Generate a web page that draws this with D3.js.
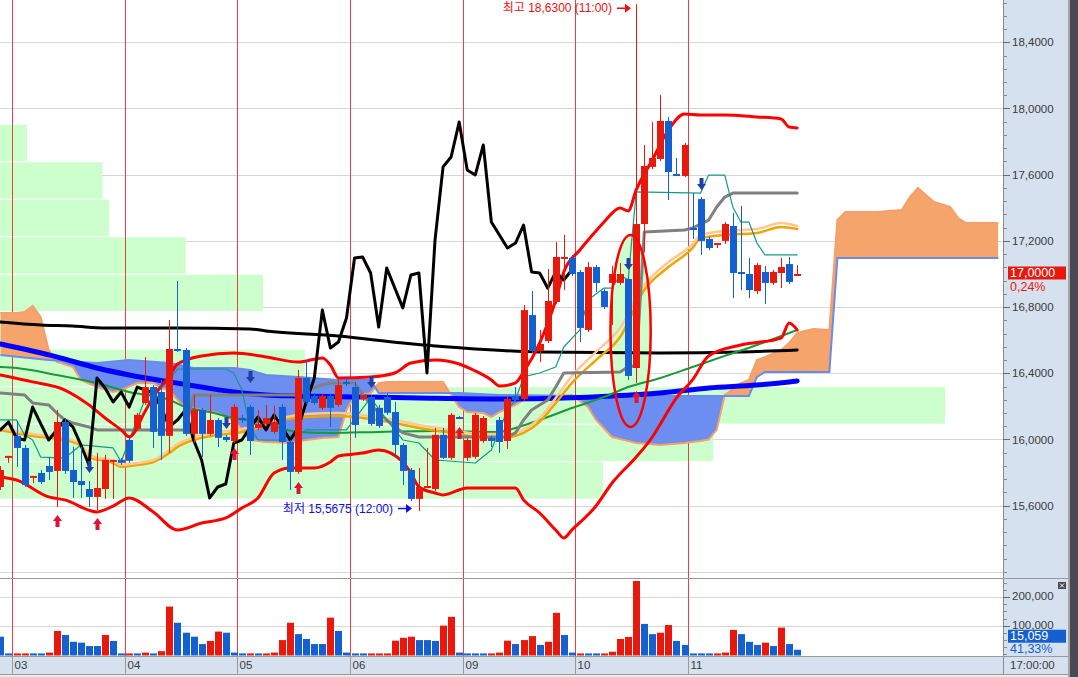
<!DOCTYPE html>
<html>
<head>
<meta charset="utf-8">
<title>Hourly candle chart</title>
<script src="https://cdn.jsdelivr.net/npm/d3@7"></script>
<style>
  body { margin: 0; background: #fff; overflow: hidden; }
  svg { display: block; font-family: "Liberation Sans", "Noto Sans CJK KR", Arial, sans-serif; }
  .axis-label { font-size: 11.5px; fill: #3a3a3a; dominant-baseline: central; }
  .note { font-size: 12px; dominant-baseline: central; }
</style>
</head>
<body>
<svg id="chart" width="1078" height="677"></svg>
<script>
// bar index of the first row in ohlc / volumes
const firstBar = -2;
const dayLabels = ["03", "04", "05", "06", "09", "10", "11"];
const dayStarts = [0, 14, 28, 42, 56, 70, 84];

// open, high, low, close
const ohlc = [
  [15.713, 15.840, 15.695, 15.816], [15.898, 15.901, 15.859, 15.901],
  [16.022, 16.112, 15.834, 15.949], [15.949, 15.967, 15.713, 15.725], [15.778, 15.780, 15.737, 15.780],
  [15.798, 15.816, 15.731, 15.743], [15.840, 15.895, 15.755, 15.804], [15.810, 16.179, 15.592, 16.106],
  [16.106, 16.130, 15.792, 15.810], [15.816, 15.955, 15.647, 15.743], [15.749, 15.955, 15.647, 15.725],
  [15.701, 15.749, 15.592, 15.653], [15.653, 15.919, 15.574, 15.707], [15.701, 15.907, 15.641, 15.877],
  [15.875, 15.877, 15.641, 15.877], [15.877, 15.889, 15.846, 15.859],
  [15.997, 16.010, 15.859, 15.871], [16.064, 16.161, 16.052, 16.149], [16.221, 16.498, 16.209, 16.317],
  [16.317, 16.329, 15.949, 16.046], [16.287, 16.360, 15.877, 16.022], [16.022, 16.722, 15.919, 16.547],
  [16.547, 16.958, 16.529, 16.535], [16.541, 16.553, 16.022, 16.034], [16.034, 16.269, 15.979, 16.179],
  [16.179, 16.191, 15.895, 16.034], [16.034, 16.269, 16.022, 16.118], [16.118, 16.130, 15.955, 16.010],
  [16.016, 16.028, 15.985, 15.997], [15.991, 16.215, 15.979, 16.197],
  [16.130, 16.149, 16.100, 16.118], [16.197, 16.209, 15.907, 15.991], [16.070, 16.179, 16.058, 16.094],
  [16.094, 16.209, 16.082, 16.130], [16.046, 16.203, 16.034, 16.106], [16.197, 16.215, 15.877, 15.985],
  [15.985, 15.997, 15.695, 15.804], [15.804, 16.420, 15.792, 16.372], [16.372, 16.481, 16.215, 16.227],
  [16.263, 16.282, 16.209, 16.221], [16.191, 16.276, 16.179, 16.263], [16.263, 16.276, 16.076, 16.191],
  [16.209, 16.360, 16.197, 16.329], [16.348, 16.372, 16.323, 16.336],
  [16.317, 16.348, 16.010, 16.088], [16.245, 16.269, 16.233, 16.269], [16.257, 16.269, 16.082, 16.094],
  [16.191, 16.209, 16.070, 16.082], [16.257, 16.282, 16.149, 16.161], [16.166, 16.227, 15.895, 15.967],
  [15.967, 15.979, 15.725, 15.810], [15.816, 15.828, 15.628, 15.641], [15.641, 15.828, 15.5675, 15.713],
  [15.713, 15.949, 15.707, 15.719], [15.701, 16.070, 15.689, 16.028], [16.028, 16.070, 15.883, 15.889],
  [15.889, 16.161, 15.877, 16.149], [16.136, 16.142, 16.124, 16.130],
  [15.889, 16.010, 15.871, 15.997], [15.895, 16.161, 15.883, 16.149], [15.991, 16.142, 15.979, 16.130],
  [16.010, 16.022, 15.955, 15.991], [16.118, 16.136, 15.919, 15.985], [15.991, 16.257, 15.943, 16.245],
  [16.257, 16.317, 16.233, 16.239], [16.245, 16.813, 16.233, 16.782], [16.752, 16.897, 16.523, 16.535],
  [16.535, 16.662, 16.468, 16.577], [16.595, 17.030, 16.583, 16.837], [16.831, 17.193, 16.819, 17.103],
  [17.091, 17.236, 16.903, 17.103], [17.097, 17.115, 16.988, 17.000],
  [17.012, 17.024, 16.589, 16.674], [16.662, 17.072, 16.650, 17.042], [17.042, 17.054, 16.891, 16.946],
  [16.897, 16.909, 16.789, 16.801], [16.946, 17.048, 16.692, 17.000], [16.946, 17.066, 16.934, 17.000],
  [16.970, 16.982, 16.360, 16.384], [16.432, 18.630, 16.342, 17.302], [17.302, 17.780, 17.133, 17.653],
  [17.647, 17.918, 17.634, 17.701], [17.695, 18.082, 17.683, 17.925], [17.925, 17.949, 17.447, 17.616],
  [17.604, 17.701, 17.598, 17.601], [17.592, 17.792, 17.586, 17.780],
  [17.278, 17.489, 17.212, 17.266], [17.453, 17.465, 17.115, 17.200], [17.212, 17.224, 17.145, 17.157],
  [17.187, 17.187, 17.157, 17.187], [17.200, 17.314, 17.181, 17.302], [17.290, 17.369, 16.855, 17.006],
  [17.012, 17.411, 16.903, 17.006], [17.000, 17.097, 16.855, 16.903], [16.897, 17.066, 16.879, 17.054],
  [17.012, 17.048, 16.819, 16.946], [16.946, 17.024, 16.934, 17.012], [17.006, 17.097, 16.915, 17.042],
  [17.060, 17.103, 16.940, 16.952], [17.000, 17.054, 16.997, 17.000]
];

// volume in thousands, and whether the bar is drawn red
const volumes = [
  61, 2, 2, 2, 2, 2, 5, 81, 67, 43, 40, 28, 28, 67, 46, 2,
  2, 2, 5, 2, 10, 167, 110, 75, 61, 35, 46, 79, 75, 5,
  2, 2, 2, 2, 5, 49, 110, 70, 53, 35, 35, 128, 81, 5,
  2, 2, 2, 2, 2, 47, 57, 61, 49, 49, 46, 100, 131, 5,
  2, 2, 2, 2, 5, 47, 35, 49, 63, 32, 43, 145, 67, 5,
  2, 2, 2, 2, 8, 53, 60, 257, 106, 70, 75, 102, 46, 32,
  2, 2, 2, 2, 5, 85, 70, 43, 32, 40, 28, 93, 35, 15
];
const volumeUp = [
  0, 0, 1, 1, 0, 0, 1, 1, 0, 0, 0, 0, 0, 1, 0, 0,
  1, 0, 1, 0, 1, 1, 0, 0, 0, 0, 1, 1, 0, 0,
  0, 1, 0, 1, 1, 1, 1, 0, 0, 0, 0, 1, 0, 0,
  0, 0, 1, 1, 1, 1, 1, 1, 0, 0, 0, 1, 1, 0,
  0, 0, 0, 1, 1, 1, 0, 1, 1, 0, 1, 1, 0, 0,
  1, 0, 0, 1, 1, 1, 1, 1, 0, 0, 1, 1, 0, 0,
  0, 0, 0, 1, 1, 1, 0, 0, 0, 1, 0, 1, 0, 0
];

// overlay lines as [bar index, price]
const bbUpper = [[-2,16.390],[2,16.348],[6,16.299],[9,16.209],[11,16.130],[13,16.058],[14,16.016],[16,16.172],[17,16.257],[19,16.384],[20,16.456],[23,16.505],[27,16.523],[31,16.499],[35,16.468],[38,16.493],[39,16.450],[40,16.372],[44,16.378],[47,16.402],[49,16.462],[52,16.480],[55,16.456],[57,16.414],[59,16.360],[60,16.323],[62,16.342],[63,16.408],[65,16.583],[67,16.843],[68,17.012],[70,17.145],[72,17.260],[73,17.314],[75,17.399],[76,17.381],[77,17.508],[79,17.689],[81,17.870],[83,17.967],[85,17.961],[88,17.961],[92,17.949],[95,17.937],[96,17.888],[97,17.882]];
const bbLower = [[-2,15.773],[0,15.755],[4,15.653],[6,15.635],[10,15.562],[12,15.598],[14,15.647],[17,15.562],[20,15.453],[23,15.495],[26,15.526],[28,15.586],[30,15.647],[32,15.798],[34,15.828],[37,15.828],[39,15.864],[40,15.900],[43,15.918],[45,15.937],[48,15.864],[49,15.798],[50,15.713],[52,15.677],[53,15.665],[56,15.707],[62,15.707],[63,15.635],[65,15.556],[67,15.453],[68,15.405],[69,15.453],[72,15.598],[74,15.737],[77,15.894],[79,16.015],[80,16.094],[82,16.251],[84,16.360],[86,16.505],[90,16.571],[95,16.613],[96,16.704],[97,16.662]];
const maBlue = [[-2,16.577],[5,16.499],[10,16.432],[14,16.390],[19,16.348],[23,16.317],[27,16.287],[31,16.269],[35,16.263],[43,16.257],[50,16.251],[60,16.245],[68,16.251],[74,16.263],[80,16.281],[86,16.311],[92,16.329],[97,16.354]];
const maBlack = [[-2,16.710],[3,16.692],[7,16.686],[11,16.674],[20,16.674],[29,16.668],[31,16.656],[40,16.625],[48,16.583],[57,16.547],[65,16.529],[80,16.523],[90,16.529],[97,16.541]];
const maGreen = [[-2,16.438],[0,16.432],[5,16.390],[10,16.341],[14,16.287],[19,16.239],[21,16.196],[24,16.166],[27,16.130],[30,16.106],[35,16.046],[39,16.040],[45,16.046],[52,16.052],[60,16.046],[62,16.070],[65,16.118],[69,16.190],[73,16.257],[76,16.317],[80,16.372],[84,16.438],[88,16.505],[92,16.571],[97,16.662]];
const maOrange = [[-2,16.058],[2,16.021],[6,15.997],[8,15.961],[9,15.894],[12,15.858],[13,15.834],[15,15.846],[17,15.864],[19,15.918],[20,15.955],[22,15.997],[25,16.027],[28,16.045],[30,16.070],[33,16.118],[36,16.136],[40,16.142],[44,16.124],[47,16.100],[50,16.070],[54,16.040],[58,16.015],[61,16.015],[63,16.040],[65,16.106],[67,16.221],[69,16.341],[72,16.480],[75,16.619],[78,16.903],[81,17.042],[84,17.157],[85,17.217],[88,17.236],[92,17.248],[95,17.284],[97,17.272]];
const maPeach = [[-2,16.070],[2,16.033],[6,16.009],[8,15.973],[9,15.906],[12,15.870],[13,15.846],[15,15.858],[17,15.876],[19,15.937],[20,15.973],[22,16.015],[25,16.045],[28,16.063],[30,16.088],[33,16.130],[36,16.154],[40,16.160],[44,16.142],[47,16.118],[50,16.088],[54,16.058],[58,16.033],[61,16.033],[63,16.058],[65,16.130],[67,16.251],[69,16.384],[72,16.529],[75,16.674],[78,16.933],[81,17.072],[84,17.181],[85,17.236],[88,17.260],[92,17.272],[95,17.308],[97,17.290]];
const kijun = [[-2,16.281],[1,16.269],[2,16.221],[4,16.209],[5,16.160],[6,16.118],[7,16.100],[9,16.076],[10,16.058],[21,16.058],[22,16.269],[35,16.269],[36,16.299],[38,16.329],[39,16.341],[42,16.341],[44,16.209],[46,16.118],[48,16.040],[50,16.015],[61,16.015],[62,16.040],[63,16.118],[64,16.178],[66,16.239],[67,16.317],[68,16.402],[75,16.408],[76,16.440],[77,16.445],[78,17.254],[83,17.266],[84,17.278],[86,17.326],[87,17.405],[88,17.465],[89,17.489],[97,17.489]];
const tenkan = [[-2,16.118],[0,16.118],[1,16.027],[2,15.997],[3,15.894],[6,15.888],[8,15.967],[12,15.949],[13,15.864],[14,15.997],[15,16.118],[16,16.251],[19,16.360],[20,16.426],[26,16.426],[27,16.402],[28,16.299],[29,16.076],[30,15.997],[34,15.997],[36,16.058],[41,16.058],[44,16.251],[46,16.118],[48,15.997],[50,15.979],[52,15.876],[57,15.858],[59,15.937],[61,16.178],[62,16.239],[63,16.378],[65,16.402],[67,16.438],[68,16.559],[70,16.662],[71,16.843],[73,16.915],[74,16.915],[75,16.994],[76,16.964],[77,17.496],[85,17.489],[86,17.598],[88,17.598],[89,17.405],[90,17.314],[91,17.314],[92,17.187],[93,17.115],[97,17.115]];
const spanA = [[-2,16.764],[0,16.764],[1,16.770],[2,16.807],[3,16.740],[4,16.540],[5,16.470],[7,16.438],[8,16.360],[10,16.317],[12,16.287],[13,16.299],[15,16.341],[17,16.341],[18,16.311],[19,16.299],[20,16.239],[21,16.196],[23,16.178],[25,16.160],[26,16.136],[27,16.118],[28,16.058],[29,15.997],[31,15.985],[34,15.979],[36,15.997],[38,16.009],[40,16.015],[41,16.178],[42,16.263],[44,16.281],[45,16.341],[46,16.348],[53,16.348],[54,16.269],[55,16.196],[56,16.166],[58,16.160],[59,16.136],[60,16.166],[62,16.209],[63,16.239],[65,16.251],[69,16.269],[71,16.196],[72,16.118],[74,16.015],[77,15.979],[80,15.967],[83,15.979],[85,15.991],[86,16.000],[87,16.058],[88,16.269],[90,16.341],[91,16.360],[92,16.480],[93,16.498],[95,16.541],[96,16.583],[97,16.644],[99,16.668],[101,16.662],[102,17.326],[103,17.375],[107,17.375],[110,17.387],[111,17.465],[112,17.520],[113,17.477],[114,17.435],[116,17.405],[117,17.338],[118,17.308],[122,17.308]];
const spanB = [[-2,16.511],[4,16.480],[10,16.462],[14,16.480],[19,16.462],[22,16.432],[27,16.432],[29,16.420],[31,16.390],[35,16.378],[40,16.360],[44,16.360],[45,16.281],[55,16.281],[60,16.269],[70,16.263],[91,16.263],[92,16.378],[93,16.408],[101,16.408],[102,17.097],[122,17.097]];
// second instrument drawn over the price
const overlay = [[-2,16.058],[-1,16.106],[0,16.009],[1,15.997],[2,16.196],[4,15.997],[6,16.118],[7,16.076],[8,15.967],[9,15.846],[10,16.372],[11,16.311],[12,16.227],[13,16.287],[14,16.196],[15,16.317],[16,16.299],[17,16.281],[18,16.190],[19,16.076],[20,16.118],[21,16.178],[22,15.997],[23,15.876],[24,15.647],[25,15.713],[26,15.731],[27,15.979],[28,15.997],[29,16.070],[30,16.136],[31,16.058],[32,16.148],[33,16.076],[34,15.997],[35,16.070],[36,16.227],[37,16.372],[38,16.782],[39,16.553],[40,16.589],[41,16.734],[42,17.097],[43,17.103],[44,17.006],[45,16.680],[46,17.036],[48,16.795],[49,16.994],[50,17.006],[51,16.402],[52,17.205],[53,17.647],[54,17.707],[55,17.918],[56,17.628],[57,17.598],[58,17.780],[59,17.314],[61,17.157],[62,17.187],[63,17.296],[64,17.012],[65,17.006],[66,16.915],[67,17.012],[68,16.964],[69,17.024]];

// price-by-volume bins
const profileLow = 15.640;
const profileStep = 0.2265;
const profileVolumes = [2680, 3170, 4200, 1355, 55, 1170, 825, 485, 455, 120];

// signal arrows: [bar index, price at arrow tip]
const buySignals = [[5,15.544],[10,15.526],[27,15.949],[35,15.743],[55,16.076],[77,16.293]];
const sellSignals = [[9,15.798],[26,16.064],[29,16.341],[44,16.311],[76,17.024],[85,17.508]];

const priceTicks = [15.2, 15.6, 16.0, 16.4, 16.8, 17.2, 17.6, 18.0, 18.4];
const volumeTicks = [100, 200];

const W = 1078, H = 677;
const plotRight = 1003, mainBottom = 578.5, volBottom = 656.5, axisRight = 1068;

const x = d3.scaleLinear().domain([0, 84]).range([16.52, 692.55]);
const y = d3.scaleLinear().domain([15.2, 18.4]).range([571.9, 42.3]);
const yv = d3.scaleLinear().domain([0, 200]).range([654, 597.2]);
const xp = d3.scaleLinear().domain([0, 4200]).range([0, 945]);

const RED = "#e8190c", BLUE = "#1560d0";
const fmtPrice = v => v.toFixed(4).replace(".", ",");
const bars = ohlc.map((r, k) => ({ i: k + firstBar, o: r[0], h: r[1], l: r[2], c: r[3] }));
const dayX = d => Math.floor(x(d - 0.5)) + 0.5;

const svg = d3.select("#chart");
const defs = svg.append("defs");
defs.append("clipPath").attr("id", "mainClip").append("rect")
  .attr("x", 0).attr("y", 0).attr("width", plotRight).attr("height", mainBottom);
defs.append("clipPath").attr("id", "volClip").append("rect")
  .attr("x", 0).attr("y", mainBottom).attr("width", plotRight).attr("height", volBottom - mainBottom);

svg.append("rect").attr("width", W).attr("height", H).attr("fill", "#fff");

const main = svg.append("g").attr("clip-path", "url(#mainClip)");
const vol = svg.append("g").attr("clip-path", "url(#volClip)");

// grid
main.selectAll(".grid").data(priceTicks).enter().append("line")
  .attr("x1", 0).attr("x2", plotRight)
  .attr("y1", d => Math.round(y(d)) + 0.5).attr("y2", d => Math.round(y(d)) + 0.5)
  .attr("stroke", "#d6d6d6");
vol.selectAll(".vgrid").data(volumeTicks).enter().append("line")
  .attr("x1", 0).attr("x2", plotRight)
  .attr("y1", d => Math.round(yv(d)) + 0.5).attr("y2", d => Math.round(yv(d)) + 0.5)
  .attr("stroke", "#d6d6d6");

// volume profile
main.selectAll(".profile").data(profileVolumes).enter().append("rect")
  .attr("x", 0)
  .attr("y", (d, k) => y(profileLow + (k + 1) * profileStep) + 0.5)
  .attr("width", d => xp(d))
  .attr("height", (d, k) => y(profileLow + k * profileStep) - y(profileLow + (k + 1) * profileStep) - 1)
  .attr("fill", "#ccffcc");

// day separators
[main, vol].forEach(g => g.selectAll(".day").data(dayStarts).enter().append("line")
  .attr("x1", dayX).attr("x2", dayX)
  .attr("y1", 0).attr("y2", volBottom)
  .attr("stroke", "#e04444"));

// highlight ellipse
const ell = { i: 76.3, p: 16.656, di: 2.5, dp: 0.58 };
main.append("ellipse")
  .attr("cx", x(ell.i)).attr("cy", y(ell.p))
  .attr("rx", x(ell.i + ell.di) - x(ell.i)).attr("ry", y(ell.p - ell.dp) - y(ell.p))
  .attr("fill", "#ccffcc");

// ichimoku cloud
const areaAbove = d3.area().x(d => x(d[0])).y0(0).y1(d => y(d[1]));
const areaBelow = d3.area().x(d => x(d[0])).y0(d => y(d[1])).y1(mainBottom);
defs.append("clipPath").attr("id", "belowA").append("path").attr("d", areaBelow(spanA));
defs.append("clipPath").attr("id", "belowB").append("path").attr("d", areaBelow(spanB));
main.append("path").attr("d", areaAbove(spanB)).attr("clip-path", "url(#belowA)").attr("fill", "#f5a46b");
main.append("path").attr("d", areaAbove(spanA)).attr("clip-path", "url(#belowB)").attr("fill", "#6b8ef0");

const straight = d3.line().x(d => x(d[0])).y(d => y(d[1]));
const smooth = d3.line().x(d => x(d[0])).y(d => y(d[1])).curve(d3.curveMonotoneX);

main.append("path").attr("d", straight(spanA)).attr("fill", "none").attr("stroke", "#f3a06c").attr("stroke-width", 2);
main.append("path").attr("d", straight(spanB)).attr("fill", "none").attr("stroke", "#6a8be8").attr("stroke-width", 2);

const drawLine = (data, gen, color, w) => main.append("path").attr("d", gen(data))
  .attr("fill", "none").attr("stroke", color).attr("stroke-width", w)
  .attr("stroke-linejoin", "round").attr("stroke-linecap", "round");

drawLine(maBlue, smooth, "#0000ff", 5);
drawLine(maBlack, smooth, "#000", 3);
drawLine(maGreen, smooth, "#179a3a", 2);
drawLine(maOrange, smooth, "#f0a400", 2.5);
drawLine(maPeach, smooth, "#ffc892", 2.5);
drawLine(kijun, straight, "#808080", 3);
drawLine(tenkan, straight, "#14998a", 1.2);
drawLine(bbUpper, smooth, "#ff0000", 3);
drawLine(bbLower, smooth, "#ff0000", 3);
drawLine(overlay, straight, "#000", 3);

// candles
const cg = main.selectAll(".candle").data(bars).enter().append("g");
cg.append("line")
  .attr("x1", d => Math.round(x(d.i)) + 0.5).attr("x2", d => Math.round(x(d.i)) + 0.5)
  .attr("y1", d => y(d.h)).attr("y2", d => y(d.l))
  .attr("stroke", d => d.c >= d.o ? RED : BLUE);
cg.append("rect")
  .attr("x", d => Math.round(x(d.i)) - 3)
  .attr("y", d => y(Math.max(d.o, d.c)))
  .attr("width", 7)
  .attr("height", d => Math.max(2, Math.abs(y(d.o) - y(d.c))))
  .attr("fill", d => d.c >= d.o ? RED : BLUE);

// signals
const upArrow = "M0,0L4.5,6L2,6L2,12L-2,12L-2,6L-4.5,6Z";
const downArrow = "M0,0L4.5,-6L2,-6L2,-12L-2,-12L-2,-6L-4.5,-6Z";
main.selectAll(".buy").data(buySignals).enter().append("path")
  .attr("d", upArrow).attr("fill", "#dc1438")
  .attr("transform", d => `translate(${Math.round(x(d[0])) + 0.5},${y(d[1])})`);
main.selectAll(".sell").data(sellSignals).enter().append("path")
  .attr("d", downArrow).attr("fill", "#2040a8")
  .attr("transform", d => `translate(${Math.round(x(d[0])) + 0.5},${y(d[1])})`);

main.append("ellipse")
  .attr("cx", x(ell.i)).attr("cy", y(ell.p))
  .attr("rx", x(ell.i + ell.di) - x(ell.i)).attr("ry", y(ell.p - ell.dp) - y(ell.p))
  .attr("fill", "none").attr("stroke", "#ff0000").attr("stroke-width", 2.5);

// high / low notes
const hiBar = bars.reduce((a, b) => b.h > a.h ? b : a);
const loBar = bars.reduce((a, b) => b.l < a.l ? b : a);
const note = (text, tipX, tipY, color) => {
  main.append("text").attr("class", "note").attr("x", tipX - 19).attr("y", tipY)
    .attr("text-anchor", "end").attr("fill", color).text(text);
  main.append("line").attr("x1", tipX - 14).attr("x2", tipX - 4).attr("y1", tipY).attr("y2", tipY)
    .attr("stroke", color).attr("stroke-width", 1.5);
  main.append("path").attr("d", `M${tipX},${tipY}L${tipX - 6},${tipY - 4.5}L${tipX - 6},${tipY + 4.5}Z`).attr("fill", color);
};
note("최고 " + hiBar.h.toFixed(4).replace(".", ",") + " (11:00)", Math.round(x(hiBar.i)) - 5, y(hiBar.h) + 4, "#ee1111");
note("최저 " + loBar.l.toFixed(4).replace(".", ",") + " (12:00)", Math.round(x(loBar.i)) - 7, y(loBar.l) - 2.5, "#1010e0");

// volume bars
vol.selectAll(".vbar").data(volumes).enter().append("rect")
  .attr("x", (d, k) => Math.round(x(k + firstBar)) - 3)
  .attr("y", d => yv(d))
  .attr("width", 7)
  .attr("height", d => yv(0) + 1.5 - yv(d))
  .attr("fill", (d, k) => volumeUp[k] ? RED : BLUE);

// panel borders
svg.append("line").attr("x1", 0).attr("x2", axisRight).attr("y1", mainBottom).attr("y2", mainBottom).attr("stroke", "#9a9a9a");

// right axis
svg.append("rect").attr("x", plotRight).attr("y", 0).attr("width", axisRight - plotRight).attr("height", 675).attr("fill", "#d6e1ef");
svg.append("line").attr("x1", plotRight + 0.5).attr("x2", plotRight + 0.5).attr("y1", 0).attr("y2", 675).attr("stroke", "#8c8c8c");
svg.append("line").attr("x1", plotRight).attr("x2", axisRight).attr("y1", mainBottom).attr("y2", mainBottom).attr("stroke", "#9a9a9a");
svg.append("rect").attr("x", axisRight).attr("y", 0).attr("width", 2).attr("height", H).attr("fill", "#a4a4a4");
svg.append("rect").attr("x", axisRight + 2).attr("y", 0).attr("width", W - axisRight - 2).attr("height", H).attr("fill", "#4a4a55");

const ax = svg.append("g");
const minorPrices = d3.range(0, 44).map(k => 15.2 + k * 0.08).filter(p => y(p) > 0 && y(p) < mainBottom - 2);
ax.selectAll(".pminor").data(minorPrices).enter().append("line")
  .attr("x1", plotRight).attr("x2", plotRight + 4)
  .attr("y1", d => Math.round(y(d)) + 0.5).attr("y2", d => Math.round(y(d)) + 0.5)
  .attr("stroke", "#8c8c8c");
ax.selectAll(".pmajor").data(priceTicks.filter(p => p >= 15.6)).enter().append("line")
  .attr("x1", plotRight).attr("x2", plotRight + 7)
  .attr("y1", d => Math.round(y(d)) + 0.5).attr("y2", d => Math.round(y(d)) + 0.5)
  .attr("stroke", "#6a6a6a");
ax.selectAll(".plabel").data(priceTicks.filter(p => p >= 15.6)).enter().append("text")
  .attr("class", "axis-label").attr("x", plotRight + 9).attr("y", d => y(d)).text(fmtPrice);

const minorVols = d3.range(0, 11).map(k => k * 25).filter(v => yv(v) > mainBottom + 2);
ax.selectAll(".vminor").data(minorVols).enter().append("line")
  .attr("x1", plotRight).attr("x2", plotRight + 4)
  .attr("y1", d => Math.round(yv(d)) + 0.5).attr("y2", d => Math.round(yv(d)) + 0.5)
  .attr("stroke", "#8c8c8c");
ax.selectAll(".vmajor").data(volumeTicks).enter().append("line")
  .attr("x1", plotRight).attr("x2", plotRight + 7)
  .attr("y1", d => Math.round(yv(d)) + 0.5).attr("y2", d => Math.round(yv(d)) + 0.5)
  .attr("stroke", "#6a6a6a");
ax.selectAll(".vlabel").data(volumeTicks).enter().append("text")
  .attr("class", "axis-label").attr("x", plotRight + 9).attr("y", d => yv(d) - 1)
  .text(d => d3.format(",")(d * 1000));

// current price tag
const last = bars[bars.length - 1];
ax.append("rect").attr("x", 1008).attr("y", y(last.c) - 7.5).attr("width", 58).attr("height", 13).attr("fill", RED);
ax.append("text").attr("class", "axis-label").attr("x", 1010).attr("y", y(last.c) - 1)
  .style("fill", "#fff").style("font-size", "12.5px").text(fmtPrice(last.c));
ax.append("text").attr("class", "axis-label").attr("x", 1010).attr("y", y(last.c) + 12.5)
  .style("fill", RED).style("font-size", "12.5px").text("0,24%");

// current volume tag
const lastVol = volumes[volumes.length - 1];
ax.append("rect").attr("x", 1008).attr("y", yv(lastVol) - 20).attr("width", 58).attr("height", 13).attr("fill", BLUE);
ax.append("text").attr("class", "axis-label").attr("x", 1010).attr("y", yv(lastVol) - 13.5)
  .style("fill", "#fff").style("font-size", "12.5px").text("15,059");
ax.append("text").attr("class", "axis-label").attr("x", 1010).attr("y", yv(lastVol) - 1)
  .style("fill", BLUE).style("font-size", "12.5px").text("41,33%");

// close button of the volume pane
ax.append("rect").attr("x", 1058).attr("y", 582).attr("width", 8).attr("height", 7).attr("fill", "#4a4a4a");
ax.append("path").attr("d", "M1060,583.5L1064,587.5M1064,583.5L1060,587.5").attr("stroke", "#fff").attr("stroke-width", 1);

// time axis
const tx = svg.append("g");
tx.append("rect").attr("x", 0).attr("y", volBottom).attr("width", axisRight).attr("height", 675 - volBottom).attr("fill", "#d6e1ef");
tx.append("line").attr("x1", 0).attr("x2", axisRight).attr("y1", volBottom).attr("y2", volBottom).attr("stroke", "#9a9a9a");
tx.append("rect").attr("x", 0).attr("y", 675).attr("width", axisRight).attr("height", 2).attr("fill", "#ececec");
tx.append("line").attr("x1", 0).attr("x2", axisRight).attr("y1", 674.5).attr("y2", 674.5).attr("stroke", "#9a9a9a");
tx.append("line").attr("x1", plotRight + 0.5).attr("x2", plotRight + 0.5).attr("y1", volBottom).attr("y2", 675).attr("stroke", "#8c8c8c");
tx.selectAll(".dtick").data(dayStarts).enter().append("line")
  .attr("x1", dayX).attr("x2", dayX)
  .attr("y1", volBottom).attr("y2", 674.5).attr("stroke", "#9a9a9a");
tx.selectAll(".dlabel").data(dayStarts).enter().append("text")
  .attr("class", "axis-label").attr("x", d => dayX(d) + 2).attr("y", 665)
  .text((d, k) => dayLabels[k]);
tx.append("text").attr("class", "axis-label").attr("x", 1010).attr("y", 665).text("17:00:00");
</script>
</body>
</html>
